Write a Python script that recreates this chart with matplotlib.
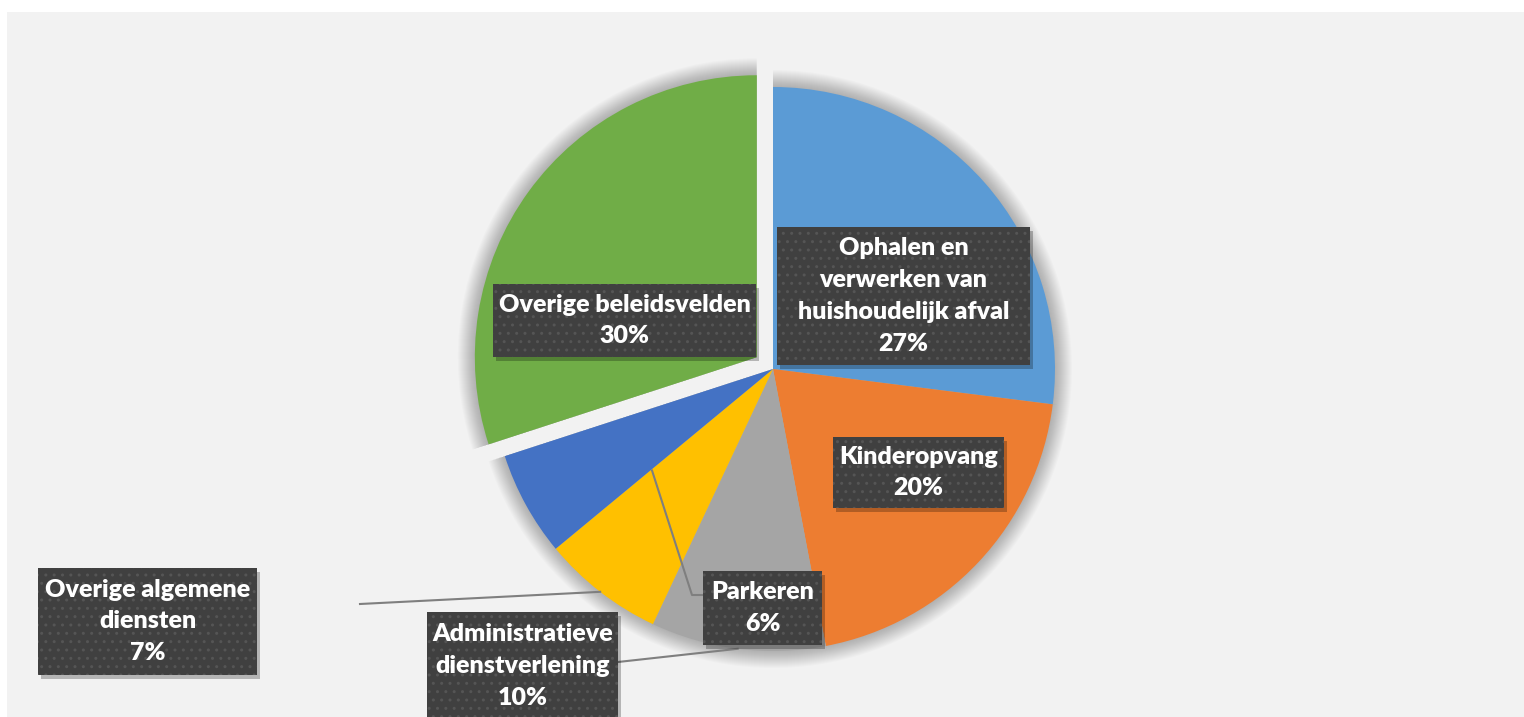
import numpy as np
import matplotlib.pyplot as plt
from matplotlib.patches import Rectangle, Wedge

# data
labels = ['Ophalen en\nverwerken van\nhuishoudelijk afval', 'Kinderopvang', 'Administratieve\ndienstverlening',
          'Overige algemene\ndiensten', 'Parkeren', 'Overige beleidsvelden']
shares = [27, 20, 10, 7, 6, 30]
colors = ['#5B9BD5', '#ED7D31', '#A5A5A5', '#FFC000', '#4472C4', '#70AD47']
explode = [0, 0, 0, 0, 0, 20]

W, H = 1524, 717
plt.rcParams['font.family'] = ['Lato', 'DejaVu Sans']

fig = plt.figure(figsize=(W / 100, H / 100), dpi=100)
fig.patch.set_facecolor('white')
ax = fig.add_axes([0, 0, 1, 1])
ax.set_xlim(0, W)
ax.set_ylim(0, H)
ax.set_aspect('equal')
ax.axis('off')

# chart area background
ax.add_patch(Rectangle((7, 0), W - 7, H - 12, facecolor='#F2F2F2', edgecolor='none', zorder=0))

cx, cy, R = 773, H - 369, 282
wedges, _ = ax.pie(shares, colors=colors, startangle=90, counterclock=False, center=(cx, cy),
                   radius=R, explode=explode, frame=True,
                   wedgeprops=dict(linewidth=0, zorder=3))
ax.set_xlim(0, W)
ax.set_ylim(0, H)
ax.axis('off')

# soft shadow around the slices
for w in wedges:
    for k in range(1, 18):
        ax.add_patch(Wedge(w.center, w.r + k, w.theta1, w.theta2, facecolor='black',
                           alpha=0.015, linewidth=0, zorder=2))

def on_wedge(i, frac, dtheta=0.0):
    w = wedges[i]
    a = np.deg2rad((w.theta1 + w.theta2) / 2 + dtheta)
    return w.center[0] + frac * w.r * np.cos(a), w.center[1] + frac * w.r * np.sin(a)

# label boxes: x0, y_top, width, height in pixels (image coordinates)
boxes = [(777, 227, 253, 138), (833, 437, 171, 71), (427, 612, 191, 108),
         (38, 568, 219, 107), (703, 571, 119, 74), (493, 284, 263, 73)]

# leader lines
lc = '#7F7F7F'
x1, y1 = on_wedge(2, 1.0)
ax.plot([x1, 618], [y1, H - 662], color=lc, lw=1.5, zorder=4)
x1, y1 = on_wedge(3, 1.0)
ax.plot([x1, 360], [y1, H - 604], color=lc, lw=1.5, zorder=4)
x1, y1 = on_wedge(4, 0.56, 11.2)
ax.plot([x1, 692, 703], [y1, H - 595, H - 595], color=lc, lw=1.5, zorder=4)

for i, (x0, yt, bw, bh) in enumerate(boxes):
    yb = H - yt - bh
    ax.add_patch(Rectangle((x0 + 3, yb - 4), bw, bh, facecolor='black', alpha=0.25,
                           linewidth=0, zorder=5))
    ax.add_patch(Rectangle((x0, yb), bw, bh, facecolor='#404040', edgecolor='#555555',
                           hatch='..', linewidth=0, zorder=6))
    ax.text(x0 + bw / 2, yb + bh / 2, '%s\n%d%%' % (labels[i], shares[i]), ha='center', va='center',
            color='white', fontsize=18, fontweight='heavy', linespacing=1.55, zorder=7)

fig.savefig('out.png', dpi=100)
